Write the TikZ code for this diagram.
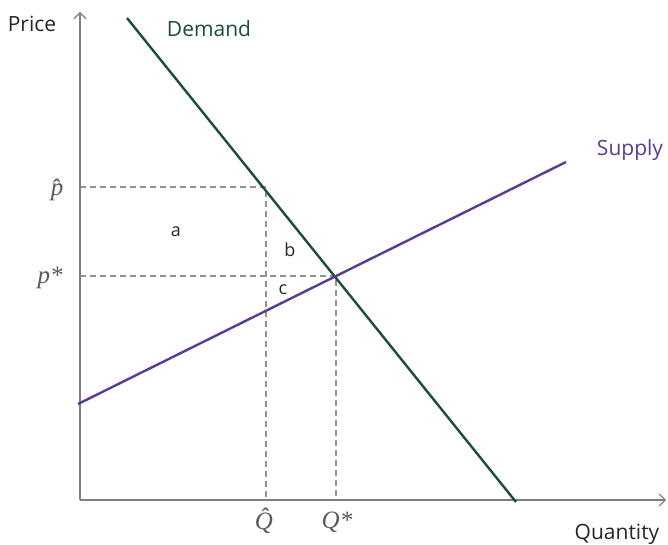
\documentclass[tikz,border=0pt]{standalone}
\usepackage{fontspec}
\setmainfont{Open Sans}
\newfontfamily\mathlike{Liberation Serif}
\usetikzlibrary{arrows.meta}
\definecolor{demandc}{HTML}{1B4D3E}
\definecolor{supplyc}{HTML}{5B3A91}
\definecolor{axisc}{HTML}{7F7F7F}
\definecolor{txtc}{HTML}{262626}
\definecolor{mathc}{HTML}{595959}
\begin{document}
\begin{tikzpicture}[x=1pt,y=-1pt,
  axisline/.style={draw=axisc,line width=1.5pt,-{Straight Barb[length=6pt,width=12pt,line width=1.2pt]}},
  guide/.style={draw=axisc!85,line width=1.1pt,dash pattern=on 6pt off 4pt},
  curve/.style={line width=2.4pt},
  lbl/.style={inner sep=0pt,font=\fontsize{21}{25}\selectfont,text=txtc},
  mlbl/.style={inner sep=0pt,font=\mathlike\itshape\fontsize{25}{28}\selectfont,text=mathc},
  area/.style={inner sep=0pt,font=\fontsize{18}{21}\selectfont,text=txtc}]
\useasboundingbox (0,0) rectangle (668,545);
\coordinate (O) at (80,500);
\coordinate (ytop) at (80,12);
\coordinate (xend) at (666,500);
\coordinate (D1) at (127,18);
\coordinate (D2) at (516,502);
\coordinate (S1) at (78,404);
\coordinate (S2) at (566,162);
\coordinate (ph) at (80,187);
\coordinate (ps) at (80,276);
\coordinate (Dh) at (266,187);
\coordinate (E) at (336,276);
\coordinate (Qh) at (266,500);
\coordinate (Qs) at (336,500);
% guides
\draw[guide] (ph) -- (Dh) -- (Qh);
\draw[guide] (ps) -- (E) -- (Qs);
% axes
\draw[axisline] (O) -- (ytop);
\draw[axisline] (O) -- (xend);
% curves
\draw[curve,draw=demandc] (D1) -- (D2);
\draw[curve,draw=supplyc] (S1) -- (S2);
% labels
\node[lbl] (price) at (32,24) {Price};
\node[lbl,text=demandc] (demand) at (209,29) {Demand};
\node[lbl,text=supplyc] (supply) at (630,150) {Supply};
\node[lbl] (quantity) at (617,534) {Quantity};
\node[mlbl] (phl) at (57,190) {\^{p}};
\node[mlbl] (psl) at (50,278) {p*};
\node[mlbl] (qhl) at (264,521) {\^{Q}};
\node[mlbl] (qsl) at (337,522) {Q*};
\node[area] (a) at (176,232) {a};
\node[area] (b) at (290,250) {b};
\node[area] (c) at (283,290) {c};
\end{tikzpicture}
\end{document}
